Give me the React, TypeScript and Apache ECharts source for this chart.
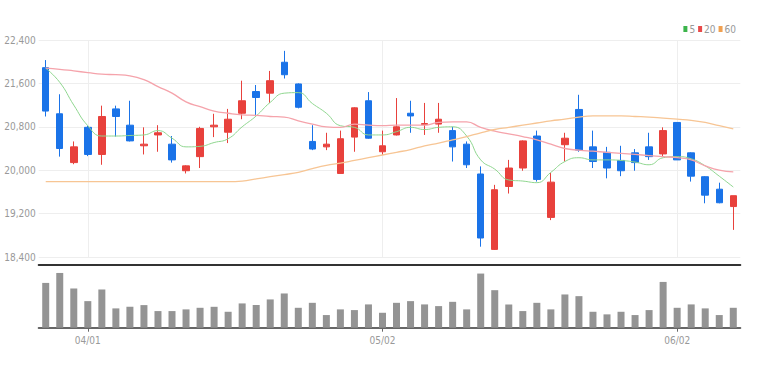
import React, { useEffect, useRef } from 'react';
import * as echarts from 'echarts';

const dates = [
  '03/27', '03/28', '03/29', '04/01', '04/02', '04/03', '04/04', '04/05', '04/08', '04/09',
  '04/11', '04/12', '04/15', '04/16', '04/17', '04/18', '04/19', '04/22', '04/23', '04/24',
  '04/25', '04/26', '04/29', '04/30', '05/02', '05/03', '05/06', '05/07', '05/08', '05/09',
  '05/10', '05/13', '05/14', '05/16', '05/17', '05/20', '05/21', '05/22', '05/23', '05/24',
  '05/27', '05/28', '05/29', '05/30', '05/31', '06/02', '06/03', '06/04', '06/05', '06/07',
];
const tickLabels = ['04/01', '05/02', '06/02'];

const opens = [
  21890, 21040, 20140, 20790, 20290, 21130, 20830, 20450, 20650, 20480,
  19990, 20250, 20800, 20700, 21050, 21450, 21420, 21990, 21590, 20530,
  20430, 19940, 20610, 21280, 20340, 20650, 21050, 20840, 20850, 20730,
  20480, 19930, 18540, 19700, 20040, 20630, 19130, 20470, 21120, 20430,
  20330, 20180, 20320, 20430, 20300, 20880, 20320, 19880, 19650, 19330,
];
const closes = [
  21090, 20400, 20430, 20290, 20990, 20990, 20540, 20480, 20690, 20190,
  20080, 20770, 20830, 20940, 21280, 21340, 21650, 21760, 21160, 20390,
  20480, 20580, 21150, 20590, 20450, 20800, 21000, 20860, 20940, 20430,
  20100, 18750, 19640, 20040, 20540, 19830, 19780, 20590, 20370, 20160,
  20040, 19990, 20140, 20250, 20730, 20190, 19890, 19540, 19400, 19530,
];
const lows = [
  20990, 20250, 20110, 20260, 20100, 20620, 20530, 20290, 20340, 20140,
  19940, 20040, 20610, 20500, 20940, 21000, 21240, 21690, 21140, 20370,
  20370, 19940, 20340, 20580, 20280, 20640, 20690, 20650, 20690, 20160,
  20040, 18590, 18530, 19570, 19990, 19790, 19080, 20160, 20340, 20040,
  19850, 19890, 19990, 20190, 20250, 20190, 19790, 19390, 19390, 18900,
];
const highs = [
  22030, 21400, 20530, 20820, 21190, 21190, 21280, 20790, 20830, 20630,
  20090, 20800, 21040, 21130, 21650, 21570, 21830, 22200, 21600, 20830,
  20690, 20730, 21160, 21440, 20730, 21330, 21280, 21240, 21240, 20800,
  20530, 20070, 19730, 20190, 20550, 20730, 19950, 20690, 21390, 20730,
  20430, 20450, 20390, 20690, 20790, 20880, 20330, 19890, 19770, 19530,
];

const ma5 = [
  21880, 21620, 21200, 20820, 20630, 20630, 20640, 20650, 20730, 20590,
  20430, 20440, 20510, 20580, 20800, 21000, 21250, 21420, 21430, 21230,
  21050, 20820, 20790, 20650, 20650, 20710, 20790, 20750, 20790, 20800,
  20630, 20190, 20020, 19820, 19800, 19770, 19960, 20160, 20230, 20190,
  20190, 20180, 20150, 20100, 20230, 20250, 20210, 20080, 19890, 19690,
];
const ma20 = [
  21880, 21860, 21830, 21800, 21770, 21760, 21740, 21670, 21540, 21420,
  21260, 21170, 21090, 21050, 21020, 21010, 20990, 20980, 20910, 20850,
  20800, 20790, 20850, 20830, 20820, 20830, 20830, 20830, 20880, 20890,
  20890, 20790, 20720, 20670, 20620, 20560, 20480, 20400, 20370, 20350,
  20330, 20310, 20290, 20270, 20250, 20230, 20190, 20080, 20000, 19970,
];
const ma60 = [
  19790, 19790, 19790, 19790, 19790, 19790, 19790, 19790, 19790, 19790,
  19790, 19790, 19790, 19790, 19800, 19840, 19880, 19920, 19960, 20030,
  20090, 20130, 20180, 20230, 20280, 20330, 20380, 20450, 20500, 20560,
  20620, 20690, 20750, 20790, 20830, 20870, 20910, 20940, 20980, 21000,
  21000, 21000, 20990, 20980, 20960, 20940, 20920, 20880, 20820, 20760,
];

const volumes = [
  450, 550, 394, 267, 384, 194, 210, 227, 167, 167,
  184, 200, 210, 160, 244, 227, 284, 344, 200, 250,
  127, 184, 177, 234, 150, 250, 267, 234, 217, 260,
  184, 544, 377, 234, 167, 250, 184, 334, 317, 160,
  134, 160, 127, 177, 460, 200, 234, 194, 127, 200,
];

const FONT = '"Liberation Sans Narrow", "DejaVu Sans Condensed", "Roboto Condensed", sans-serif';

export default function App() {
  const ref = useRef<HTMLDivElement>(null);
  useEffect(() => {
    if (!ref.current) return;
    const chart = echarts.init(ref.current, null, { renderer: 'svg' });
    const showTick = (_i: number, v: string) => tickLabels.includes(v);
    chart.setOption({
      animation: false,
      backgroundColor: '#fff',
      legend: {
        right: 16,
        top: 19,
        icon: 'rect',
        itemWidth: 4,
        itemHeight: 6,
        itemGap: 3,
        textStyle: { color: '#999', fontSize: 10, fontFamily: FONT, padding: [0, 0, 0, -3] },
        data: [
          { name: '5', itemStyle: { color: '#3cb44b' } },
          { name: '20', itemStyle: { color: '#e84a4a' } },
          { name: '60', itemStyle: { color: '#f0a050' } },
        ],
      },
      grid: [
        { left: 38.7, right: 16.7, top: 40, bottom: 111 },
        { left: 38.7, right: 16.7, top: 265, bottom: 40.3 },
      ],
      xAxis: [
        {
          type: 'category',
          data: dates,
          gridIndex: 0,
          offset: 7.7,
          axisLine: { show: true, onZero: false, lineStyle: { color: '#333', width: 2 } },
          axisTick: { show: false },
          axisLabel: { show: false },
          splitLine: { show: true, interval: showTick, alignWithLabel: true, lineStyle: { color: '#eee' } },
        },
        {
          type: 'category',
          data: dates,
          gridIndex: 1,
          axisLine: { show: true, onZero: false, lineStyle: { color: '#666', width: 2 } },
          axisTick: { show: true, interval: showTick, alignWithLabel: true, length: 4, lineStyle: { color: '#666' } },
          axisLabel: { interval: showTick, color: '#999', fontSize: 10, fontFamily: FONT, margin: 8 },
          splitLine: { show: false },
        },
      ],
      yAxis: [
        {
          gridIndex: 0,
          min: 18400,
          max: 22400,
          interval: 800,
          axisLine: { show: false },
          axisTick: { show: false },
          axisLabel: {
            color: '#999',
            fontSize: 10,
            fontFamily: FONT,
            margin: 3,
            formatter: (v: number) => v.toLocaleString('en-US'),
          },
          splitLine: { lineStyle: { color: '#eee' } },
        },
        {
          gridIndex: 1,
          min: 0,
          max: 630,
          show: false,
          splitLine: { show: false },
        },
      ],
      series: [
        {
          type: 'candlestick',
          name: 'price',
          xAxisIndex: 0,
          yAxisIndex: 0,
          barWidth: 7,
          data: opens.map((o, i) => [o, closes[i], lows[i], highs[i]]),
          itemStyle: {
            color: '#e8413c',
            color0: '#1a73e8',
            borderColor: '#e8413c',
            borderColor0: '#1a73e8',
            borderWidth: 1,
          },
        },
        {
          type: 'line',
          name: '5',
          xAxisIndex: 0,
          yAxisIndex: 0,
          data: ma5,
          smooth: true,
          showSymbol: false,
          lineStyle: { color: '#8fd68f', width: 1 },
          itemStyle: { color: '#3cb44b' },
        },
        {
          type: 'line',
          name: '20',
          xAxisIndex: 0,
          yAxisIndex: 0,
          data: ma20,
          smooth: true,
          showSymbol: false,
          lineStyle: { color: '#f5a3ab', width: 1.3 },
          itemStyle: { color: '#e84a4a' },
        },
        {
          type: 'line',
          name: '60',
          xAxisIndex: 0,
          yAxisIndex: 0,
          data: ma60,
          smooth: true,
          showSymbol: false,
          lineStyle: { color: '#f7c594', width: 1.3 },
          itemStyle: { color: '#f0a050' },
        },
        {
          type: 'bar',
          name: 'volume',
          xAxisIndex: 1,
          yAxisIndex: 1,
          barWidth: 7,
          data: volumes,
          itemStyle: { color: '#949494' },
        },
      ],
    });
    return () => chart.dispose();
  }, []);
  return <div ref={ref} style={{ position: 'fixed', left: 0, top: 0, width: 757, height: 368 }} />;
}
